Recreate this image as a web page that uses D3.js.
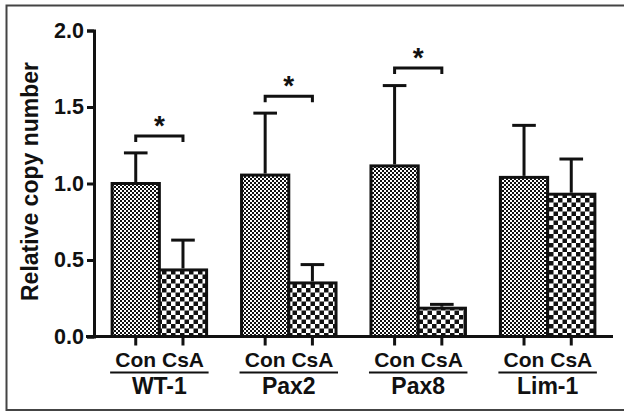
<!DOCTYPE html>
<html>
<head>
<meta charset="utf-8">
<script src="https://cdn.jsdelivr.net/npm/d3@7"></script>
<style>
  body { margin: 0; background: #fff; }
  text { font-family: "Liberation Sans", Arial, sans-serif; font-weight: bold; fill: #111; }
</style>
</head>
<body>
<div id="chart"></div>
<script>
const groups = ['WT-1', 'Pax2', 'Pax8', 'Lim-1'];
const treatments = ['Con', 'CsA'];
const conMeans = [1.0, 1.055, 1.115, 1.04];
const conErrors = [1.2, 1.46, 1.64, 1.38];
const csaMeans = [0.435, 0.35, 0.185, 0.93];
const csaErrors = [0.63, 0.47, 0.21, 1.16];
const yTicks = [0, 0.5, 1.0, 1.5, 2.0];
// significance brackets: group and bracket level
const sigGroups = ['WT-1', 'Pax2', 'Pax8'];
const sigLevels = [1.31, 1.57, 1.755];

const width = 624;
const height = 411;
const margin = { top: 30.5, bottom: 74.5, left: 94, right: 11 };

const rows = [];
groups.forEach((g, i) => {
  rows.push({ group: g, treat: 'Con', mean: conMeans[i], top: conErrors[i] });
  rows.push({ group: g, treat: 'CsA', mean: csaMeans[i], top: csaErrors[i] });
});

const svg = d3
  .select('#chart')
  .append('svg')
  .attr('width', width)
  .attr('height', height);

const defs = svg.append('defs');
const fine = defs
  .append('pattern')
  .attr('id', 'fine')
  .attr('patternUnits', 'userSpaceOnUse')
  .attr('width', 4)
  .attr('height', 4);
fine.append('rect').attr('width', 4).attr('height', 4).attr('fill', '#fff');
fine.append('rect').attr('width', 2).attr('height', 2).attr('fill', '#111');
fine.append('rect').attr('x', 2).attr('y', 2).attr('width', 2).attr('height', 2).attr('fill', '#111');

const coarse = defs
  .append('pattern')
  .attr('id', 'coarse')
  .attr('patternUnits', 'userSpaceOnUse')
  .attr('width', 9)
  .attr('height', 9);
coarse.append('rect').attr('width', 9).attr('height', 9).attr('fill', '#fff');
coarse.append('rect').attr('width', 4.5).attr('height', 4.5).attr('fill', '#111');
coarse.append('rect').attr('x', 4.5).attr('y', 4.5).attr('width', 4.5).attr('height', 4.5).attr('fill', '#111');

const fillFor = (t) => (t === 'Con' ? 'url(#fine)' : 'url(#coarse)');

// frame
svg
  .append('path')
  .attr('d', `M${width + 5},5.5 H6.5 V410 H${width + 5}`)
  .attr('fill', 'none')
  .attr('stroke', '#444')
  .attr('stroke-width', 2);

const x = d3
  .scaleBand()
  .domain(groups)
  .range([margin.left, width - margin.right])
  .paddingInner(0.27)
  .paddingOuter(0.14);

const xs = d3.scaleBand().domain(treatments).range([0, x.bandwidth()]);

const y = d3
  .scaleLinear()
  .domain([0, 2])
  .range([height - margin.bottom, margin.top]);

const g = svg.append('g');

// bars
g.selectAll('rect.bar')
  .data(rows)
  .join('rect')
  .attr('class', 'bar')
  .attr('x', (d) => x(d.group) + xs(d.treat))
  .attr('y', (d) => y(d.mean))
  .attr('width', xs.bandwidth())
  .attr('height', (d) => y(0) - y(d.mean))
  .attr('fill', (d) => fillFor(d.treat))
  .attr('stroke', '#111')
  .attr('stroke-width', 3);

// error bars
const cx = (d) => x(d.group) + xs(d.treat) + xs.bandwidth() / 2;
const err = g.append('g').attr('stroke', '#111').attr('stroke-width', 3);
err
  .selectAll('line.v')
  .data(rows)
  .join('line')
  .attr('x1', cx)
  .attr('x2', cx)
  .attr('y1', (d) => y(d.mean) - 1.5)
  .attr('y2', (d) => y(d.top));
err
  .selectAll('line.cap')
  .data(rows)
  .join('line')
  .attr('x1', (d) => cx(d) - xs.bandwidth() / 4)
  .attr('x2', (d) => cx(d) + xs.bandwidth() / 4)
  .attr('y1', (d) => y(d.top))
  .attr('y2', (d) => y(d.top));

// y axis
const yAxis = svg
  .append('g')
  .attr('transform', `translate(${margin.left},0)`)
  .call(
    d3
      .axisLeft(y)
      .tickValues(yTicks)
      .tickFormat(d3.format('.1f'))
      .tickSize(7)
      .tickPadding(3)
  );
yAxis.select('.domain').attr('stroke-width', 3).attr('stroke', '#111');
yAxis.selectAll('.tick line').attr('stroke-width', 3).attr('stroke', '#111');
yAxis
  .selectAll('.tick text')
  .attr('font-size', 21.5)
  .attr('font-family', '"Liberation Sans", Arial, sans-serif')
  .attr('font-weight', 'bold')
  .attr('fill', '#111');

// x axis baseline
svg
  .append('line')
  .attr('x1', margin.left - 8)
  .attr('x2', width - margin.right)
  .attr('y1', y(0))
  .attr('y2', y(0))
  .attr('stroke', '#111')
  .attr('stroke-width', 3);

// ticks under bars
svg
  .append('g')
  .selectAll('line')
  .data(rows)
  .join('line')
  .attr('x1', cx)
  .attr('x2', cx)
  .attr('y1', y(0))
  .attr('y2', y(0) + 9)
  .attr('stroke', '#111')
  .attr('stroke-width', 3);

// treatment labels
svg
  .append('g')
  .selectAll('text')
  .data(rows)
  .join('text')
  .attr('x', cx)
  .attr('y', y(0) + 30)
  .attr('text-anchor', 'middle')
  .attr('font-size', 21)
  .text((d) => d.treat);

// underline + group labels
const gl = svg
  .append('g')
  .selectAll('g')
  .data(groups)
  .join('g');
gl.append('line')
  .attr('x1', (d) => x(d) - 2)
  .attr('x2', (d) => x(d) + x.bandwidth() + 2)
  .attr('y1', y(0) + 36)
  .attr('y2', y(0) + 36)
  .attr('stroke', '#111')
  .attr('stroke-width', 2);
gl.append('text')
  .attr('x', (d) => x(d) + x.bandwidth() / 2)
  .attr('y', y(0) + 57)
  .attr('text-anchor', 'middle')
  .attr('font-size', 23)
  .text((d) => d);

// y label
svg
  .append('text')
  .attr('transform', `translate(38,${y(1.0) - 2}) rotate(-90)`)
  .attr('text-anchor', 'middle')
  .attr('font-size', 23)
  .text('Relative copy number');

// significance brackets
const sig = svg
  .append('g')
  .selectAll('g')
  .data(sigGroups.map((s, i) => ({ group: s, level: sigLevels[i] })))
  .join('g');
sig
  .append('path')
  .attr('d', (d) => {
    const x1 = x(d.group) + xs('Con') + xs.bandwidth() / 2;
    const x2 = x(d.group) + xs('CsA') + xs.bandwidth() / 2;
    const yy = y(d.level);
    return `M${x1},${yy + 6} V${yy} H${x2} V${yy + 6}`;
  })
  .attr('fill', 'none')
  .attr('stroke', '#111')
  .attr('stroke-width', 3);
sig
  .append('text')
  .attr('x', (d) => x(d.group) + x.bandwidth() / 2)
  .attr('y', (d) => y(d.level) - 1)
  .attr('text-anchor', 'middle')
  .attr('font-size', 28)
  .text('*');
</script>
</body>
</html>
